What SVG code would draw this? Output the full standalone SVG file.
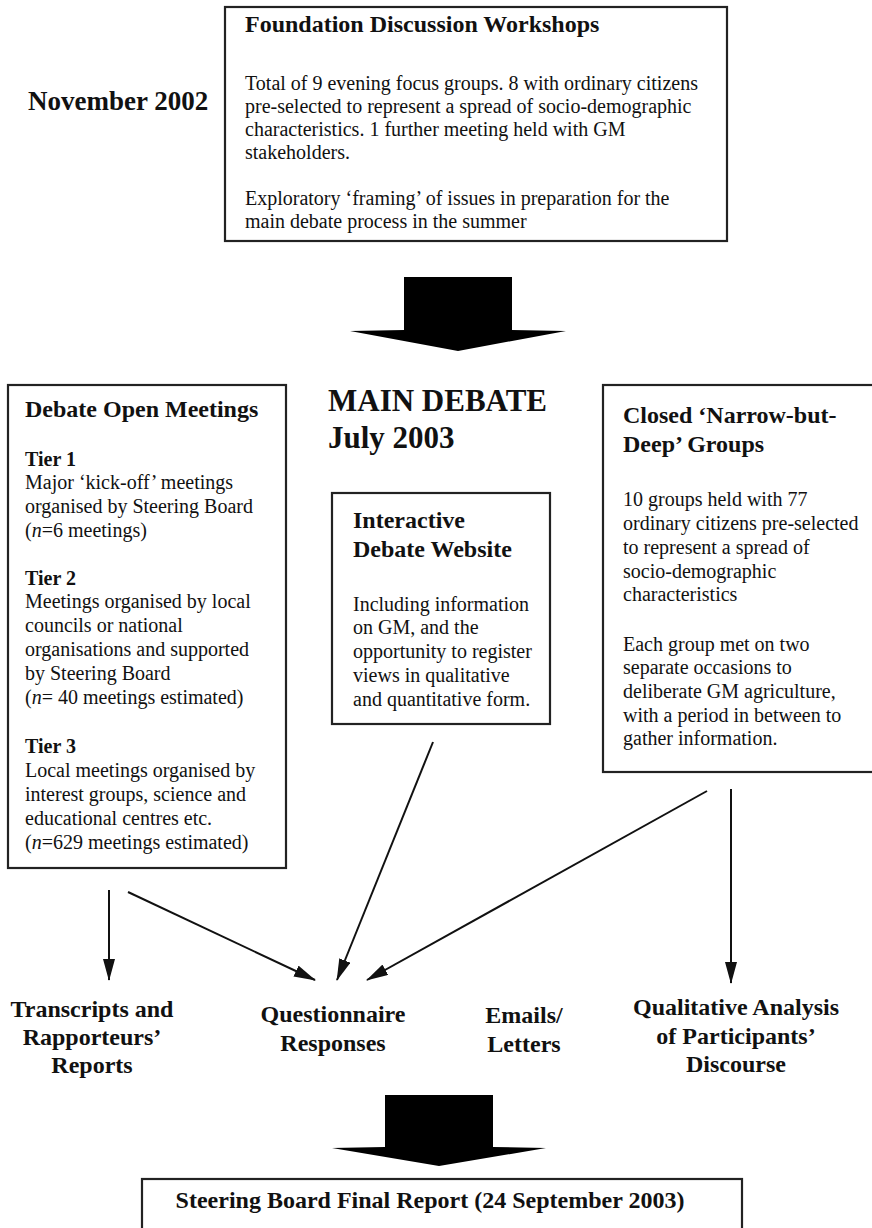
<svg xmlns="http://www.w3.org/2000/svg" width="872" height="1228" viewBox="0 0 872 1228">
<style>
text { font-family: "Liberation Serif", "Times New Roman", serif; fill: #111; }
.body { font-size: 20px; }
.title { font-size: 24px; font-weight: bold; }
.tier { font-size: 20px; font-weight: bold; }
.label { font-size: 24px; font-weight: bold; text-anchor: middle; }
.big { font-size: 31px; font-weight: bold; }
.box { fill: #fff; stroke: #222; stroke-width: 2.2; }
.conn { stroke: #111; stroke-width: 2; fill: none; marker-end: url(#ah); }
.bigarrow { fill: #000; }
</style>
<defs>
<marker id="ah" viewBox="0 0 22 12" refX="21" refY="6" markerWidth="22" markerHeight="12" markerUnits="userSpaceOnUse" orient="auto">
<path d="M0,0 L22,6 L0,12 z" fill="#111"/>
</marker>
</defs>
<rect width="872" height="1228" fill="#fff"/>

<g id="date-nov2002">
<text x="28" y="110" style="font-size:27px;font-weight:bold">November 2002</text>
</g>

<g id="foundation">
<rect class="box" x="225" y="7" width="502" height="234"/>
<text class="title" x="245" y="32">Foundation Discussion Workshops</text>
<text class="body" x="245" y="90">Total of 9 evening focus groups. 8 with ordinary citizens</text>
<text class="body" x="245" y="113">pre-selected to represent a spread of socio-demographic</text>
<text class="body" x="245" y="136">characteristics. 1 further meeting held with GM</text>
<text class="body" x="245" y="159">stakeholders.</text>
<text class="body" x="245" y="205">Exploratory ‘framing’ of issues in preparation for the</text>
<text class="body" x="245" y="228">main debate process in the summer</text>
</g>

<g id="arrow-top">
<polygon class="bigarrow" points="404,277 512,277 512,330 566,331 458,351 350,331 404,330"/>
</g>

<g id="main-debate">
<text class="big" x="328" y="411">MAIN DEBATE</text>
<text class="big" x="328" y="448">July 2003</text>
</g>

<g id="open-meetings">
<rect class="box" x="8" y="385" width="278" height="483"/>
<text class="title" x="25" y="417">Debate Open Meetings</text>
<text class="tier" x="25" y="466">Tier 1</text>
<text class="body" x="25" y="489">Major ‘kick-off’ meetings</text>
<text class="body" x="25" y="513">organised by Steering Board</text>
<text class="body" x="25" y="537">(<tspan font-style="italic">n</tspan>=6 meetings)</text>
<text class="tier" x="25" y="585">Tier 2</text>
<text class="body" x="25" y="608">Meetings organised by local</text>
<text class="body" x="25" y="632">councils or national</text>
<text class="body" x="25" y="656">organisations and supported</text>
<text class="body" x="25" y="680">by Steering Board</text>
<text class="body" x="25" y="704">(<tspan font-style="italic">n</tspan>= 40 meetings estimated)</text>
<text class="tier" x="25" y="753">Tier 3</text>
<text class="body" x="25" y="777">Local meetings organised by</text>
<text class="body" x="25" y="801">interest groups, science and</text>
<text class="body" x="25" y="825">educational centres etc.</text>
<text class="body" x="25" y="849">(<tspan font-style="italic">n</tspan>=629 meetings estimated)</text>
</g>

<g id="website">
<rect class="box" x="332" y="493" width="218" height="231"/>
<text class="title" x="353" y="528">Interactive</text>
<text class="title" x="353" y="557">Debate Website</text>
<text class="body" x="353" y="611">Including information</text>
<text class="body" x="353" y="634">on GM, and the</text>
<text class="body" x="353" y="658">opportunity to register</text>
<text class="body" x="353" y="682">views in qualitative</text>
<text class="body" x="353" y="706">and quantitative form.</text>
</g>

<g id="closed-groups">
<rect class="box" x="603" y="385" width="272" height="387"/>
<text class="title" x="623" y="423">Closed ‘Narrow-but-</text>
<text class="title" x="623" y="452">Deep’ Groups</text>
<text class="body" x="623" y="506">10 groups held with 77</text>
<text class="body" x="623" y="530">ordinary citizens pre-selected</text>
<text class="body" x="623" y="554">to represent a spread of</text>
<text class="body" x="623" y="578">socio-demographic</text>
<text class="body" x="623" y="601">characteristics</text>
<text class="body" x="623" y="651">Each group met on two</text>
<text class="body" x="623" y="674">separate occasions to</text>
<text class="body" x="623" y="698">deliberate GM agriculture,</text>
<text class="body" x="623" y="722">with a period in between to</text>
<text class="body" x="623" y="745">gather information.</text>
</g>

<g id="connectors">
<line class="conn" x1="109" y1="890" x2="109" y2="980"/>
<line class="conn" x1="128" y1="892" x2="315" y2="980"/>
<line class="conn" x1="433" y1="742" x2="337" y2="980"/>
<line class="conn" x1="707" y1="791" x2="367" y2="980"/>
<line class="conn" x1="731" y1="789" x2="731" y2="983"/>
</g>

<g id="transcripts">
<text class="label" x="92" y="1017">Transcripts and</text>
<text class="label" x="92" y="1045">Rapporteurs’</text>
<text class="label" x="92" y="1073">Reports</text>
</g>

<g id="questionnaire">
<text class="label" x="333" y="1022">Questionnaire</text>
<text class="label" x="333" y="1051">Responses</text>
</g>

<g id="emails">
<text class="label" x="524" y="1023">Emails/</text>
<text class="label" x="524" y="1052">Letters</text>
</g>

<g id="qualitative">
<text class="label" x="736" y="1015">Qualitative Analysis</text>
<text class="label" x="736" y="1044">of Participants’</text>
<text class="label" x="736" y="1072">Discourse</text>
</g>

<g id="arrow-bottom">
<polygon class="bigarrow" points="385,1095 493,1095 493,1147 546,1148 439,1166 332,1148 385,1147"/>
</g>

<g id="final-report">
<rect class="box" x="142" y="1179" width="600" height="70"/>
<text x="430" y="1208" style="font-size:24px;font-weight:bold;text-anchor:middle">Steering Board Final Report (24 September 2003)</text>
</g>
</svg>
